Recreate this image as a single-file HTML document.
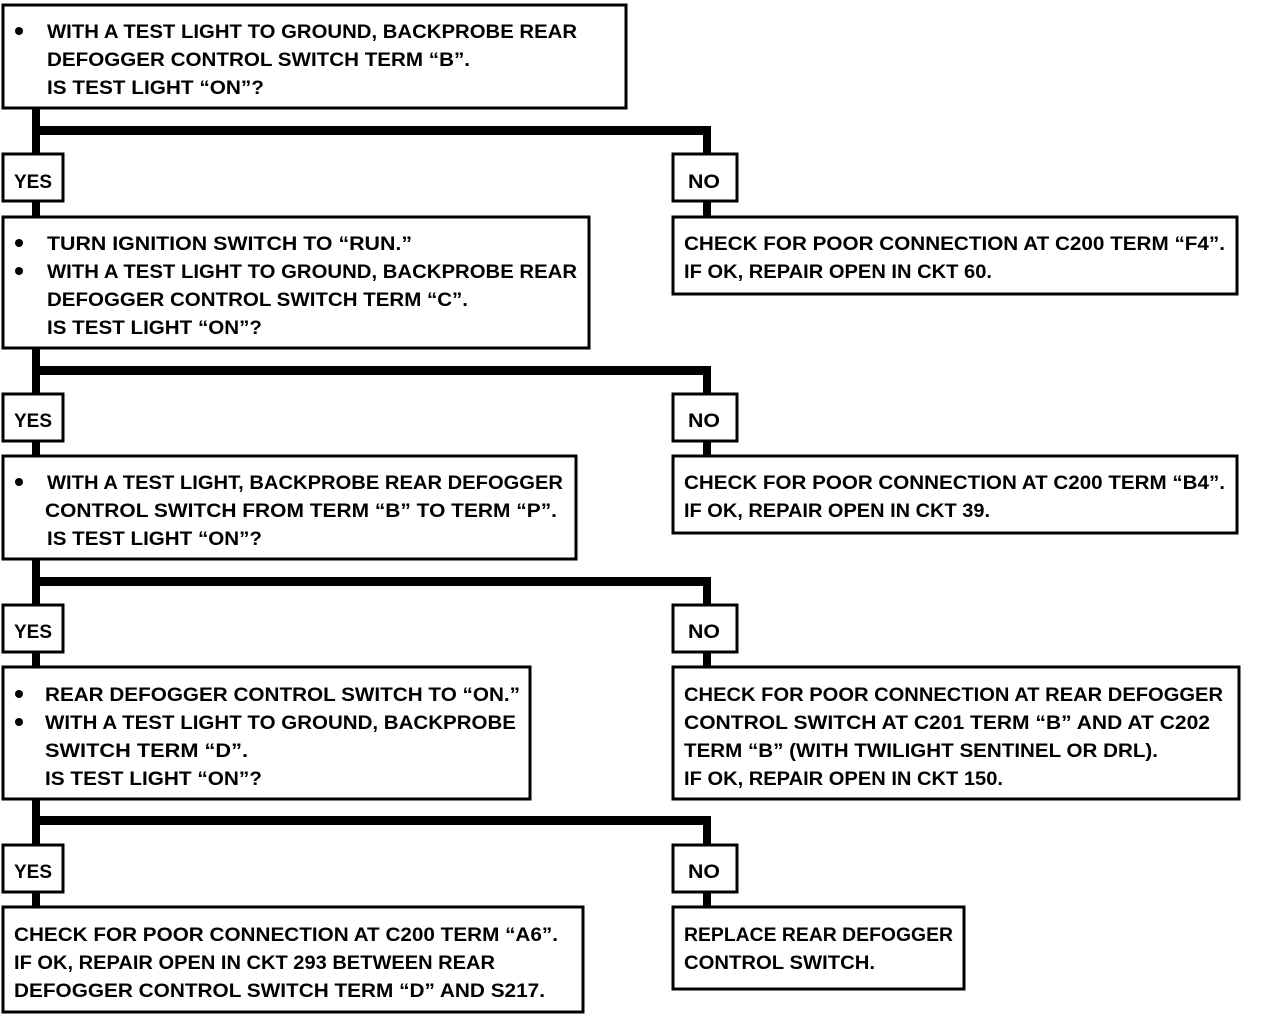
<!DOCTYPE html>
<html><head><meta charset="utf-8"><style>html,body{margin:0;padding:0;background:#fff}svg{display:block}</style></head>
<body>
<svg width="1264" height="1016" xmlns="http://www.w3.org/2000/svg" font-family="Liberation Sans, sans-serif" font-weight="bold" font-size="19" fill="#000">
<g fill="#000">
<rect x="32" y="108" width="8" height="800"/>
<rect x="32" y="126" width="679" height="9"/>
<rect x="703" y="126" width="8" height="90"/>
<rect x="32" y="366" width="679" height="9"/>
<rect x="703" y="366" width="8" height="90"/>
<rect x="32" y="577" width="679" height="9"/>
<rect x="703" y="577" width="8" height="90"/>
<rect x="32" y="816" width="679" height="9"/>
<rect x="703" y="816" width="8" height="90"/>
</g>
<g fill="#fff" stroke="#000" stroke-width="3">
<rect x="3" y="5" width="623" height="103"/>
<rect x="3" y="154" width="60" height="47"/><rect x="673" y="154" width="64" height="47"/>
<rect x="3" y="217" width="586" height="131"/><rect x="673" y="217" width="564" height="77"/>
<rect x="3" y="394" width="60" height="47"/><rect x="673" y="394" width="64" height="47"/>
<rect x="3" y="456" width="573" height="103"/><rect x="673" y="456" width="564" height="77"/>
<rect x="3" y="605" width="60" height="47"/><rect x="673" y="605" width="64" height="47"/>
<rect x="3" y="667" width="527" height="132"/><rect x="673" y="667" width="566" height="132"/>
<rect x="3" y="845" width="60" height="47"/><rect x="673" y="845" width="64" height="47"/>
<rect x="3" y="907" width="580" height="105"/><rect x="673" y="907" width="291" height="82"/>
</g>
<g>
<circle cx="19" cy="31" r="4"/>
<circle cx="19" cy="243" r="4"/><circle cx="19" cy="271" r="4"/>
<circle cx="19" cy="482" r="4"/>
<circle cx="19" cy="694" r="4"/><circle cx="19" cy="722" r="4"/>
</g>
<g lengthAdjust="spacingAndGlyphs">
<text x="47" y="38" textLength="530" lengthAdjust="spacingAndGlyphs">WITH A TEST LIGHT TO GROUND, BACKPROBE REAR</text>
<text x="47" y="66" textLength="423" lengthAdjust="spacingAndGlyphs">DEFOGGER CONTROL SWITCH TERM “B”.</text>
<text x="47" y="94" textLength="217" lengthAdjust="spacingAndGlyphs">IS TEST LIGHT “ON”?</text>
<text x="14" y="188" textLength="38" lengthAdjust="spacingAndGlyphs">YES</text>
<text x="688" y="188" textLength="32" lengthAdjust="spacingAndGlyphs">NO</text>
<text x="47" y="250" textLength="365" lengthAdjust="spacingAndGlyphs">TURN IGNITION SWITCH TO “RUN.”</text>
<text x="47" y="278" textLength="530" lengthAdjust="spacingAndGlyphs">WITH A TEST LIGHT TO GROUND, BACKPROBE REAR</text>
<text x="47" y="306" textLength="421" lengthAdjust="spacingAndGlyphs">DEFOGGER CONTROL SWITCH TERM “C”.</text>
<text x="47" y="334" textLength="215" lengthAdjust="spacingAndGlyphs">IS TEST LIGHT “ON”?</text>
<text x="684" y="250" textLength="541" lengthAdjust="spacingAndGlyphs">CHECK FOR POOR CONNECTION AT C200 TERM “F4”.</text>
<text x="684" y="278" textLength="308" lengthAdjust="spacingAndGlyphs">IF OK, REPAIR OPEN IN CKT 60.</text>
<text x="14" y="427" textLength="38" lengthAdjust="spacingAndGlyphs">YES</text>
<text x="688" y="427" textLength="32" lengthAdjust="spacingAndGlyphs">NO</text>
<text x="47" y="489" textLength="516" lengthAdjust="spacingAndGlyphs">WITH A TEST LIGHT, BACKPROBE REAR DEFOGGER</text>
<text x="45" y="517" textLength="512" lengthAdjust="spacingAndGlyphs">CONTROL SWITCH FROM TERM “B” TO TERM “P”.</text>
<text x="47" y="545" textLength="215" lengthAdjust="spacingAndGlyphs">IS TEST LIGHT “ON”?</text>
<text x="684" y="489" textLength="541" lengthAdjust="spacingAndGlyphs">CHECK FOR POOR CONNECTION AT C200 TERM “B4”.</text>
<text x="684" y="517" textLength="306" lengthAdjust="spacingAndGlyphs">IF OK, REPAIR OPEN IN CKT 39.</text>
<text x="14" y="638" textLength="38" lengthAdjust="spacingAndGlyphs">YES</text>
<text x="688" y="638" textLength="32" lengthAdjust="spacingAndGlyphs">NO</text>
<text x="45" y="701" textLength="475" lengthAdjust="spacingAndGlyphs">REAR DEFOGGER CONTROL SWITCH TO “ON.”</text>
<text x="45" y="729" textLength="471" lengthAdjust="spacingAndGlyphs">WITH A TEST LIGHT TO GROUND, BACKPROBE</text>
<text x="45" y="757" textLength="203" lengthAdjust="spacingAndGlyphs">SWITCH TERM “D”.</text>
<text x="45" y="785" textLength="217" lengthAdjust="spacingAndGlyphs">IS TEST LIGHT “ON”?</text>
<text x="684" y="701" textLength="539" lengthAdjust="spacingAndGlyphs">CHECK FOR POOR CONNECTION AT REAR DEFOGGER</text>
<text x="684" y="729" textLength="526" lengthAdjust="spacingAndGlyphs">CONTROL SWITCH AT C201 TERM “B” AND AT C202</text>
<text x="684" y="757" textLength="474" lengthAdjust="spacingAndGlyphs">TERM “B” (WITH TWILIGHT SENTINEL OR DRL).</text>
<text x="684" y="785" textLength="319" lengthAdjust="spacingAndGlyphs">IF OK, REPAIR OPEN IN CKT 150.</text>
<text x="14" y="878" textLength="38" lengthAdjust="spacingAndGlyphs">YES</text>
<text x="688" y="878" textLength="32" lengthAdjust="spacingAndGlyphs">NO</text>
<text x="14" y="941" textLength="544" lengthAdjust="spacingAndGlyphs">CHECK FOR POOR CONNECTION AT C200 TERM “A6”.</text>
<text x="14" y="969" textLength="481" lengthAdjust="spacingAndGlyphs">IF OK, REPAIR OPEN IN CKT 293 BETWEEN REAR</text>
<text x="14" y="997" textLength="531" lengthAdjust="spacingAndGlyphs">DEFOGGER CONTROL SWITCH TERM “D” AND S217.</text>
<text x="684" y="941" textLength="269" lengthAdjust="spacingAndGlyphs">REPLACE REAR DEFOGGER</text>
<text x="684" y="969" textLength="191" lengthAdjust="spacingAndGlyphs">CONTROL SWITCH.</text>
</g>
</svg>
</body></html>
